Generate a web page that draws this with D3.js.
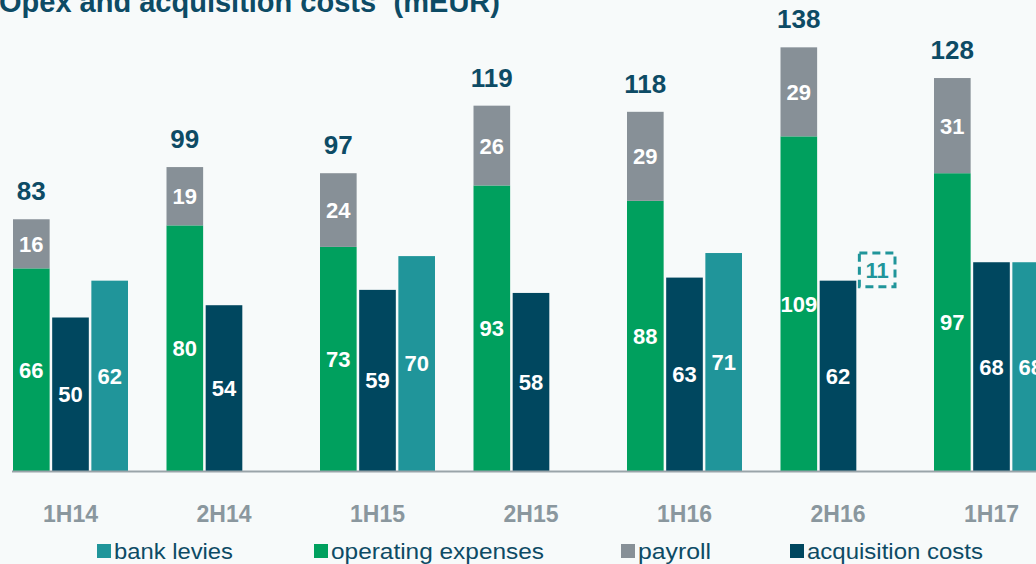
<!DOCTYPE html>
<html>
<head>
<meta charset="utf-8">
<script src="https://cdn.jsdelivr.net/npm/d3@7"></script>
<style>
  html, body { margin: 0; padding: 0; background: #f7fafa; }
  svg { display: block; font-family: "Liberation Sans", Arial, sans-serif; }
</style>
</head>
<body>
<svg id="chart" width="1036" height="564"></svg>
<script>
const categories = ["1H14", "2H14", "1H15", "2H15", "1H16", "2H16", "1H17"];
const opex       = [66, 80, 73, 93, 88, 109, 97];
const payroll    = [16, 19, 24, 26, 29, 29, 31];
const totals     = [83, 99, 97, 119, 118, 138, 128];
const acquisition= [50, 54, 59, 58, 63, 62, 68];
const bankLevies = [62, null, 70, null, 71, null, 68];
// dashed (pro-forma) bank levy indication for 2H16: [from, to, label]
const bankDashed = { category: "2H16", from: 60, to: 71, label: "11" };
const legendItems = ["bank levies", "operating expenses", "payroll", "acquisition costs"];

const colors = {
  "bank levies": "#20959a",
  "operating expenses": "#00a05e",
  "payroll": "#879097",
  "acquisition costs": "#00475f"
};
const titleColor = "#0d4b65";

const svg = d3.select("#chart");
const W = 1036, H = 564;

const y = d3.scaleLinear().domain([0, 140]).range([471, 471 - 140 * 3.07]);
const x = d3.scaleBand().domain(categories).range([13, 13 + 7 * 153.5]).padding(0);
const inner = d3.scaleBand().domain(["opex", "acq", "bank"]).range([0, 115]).paddingInner(0.065);
const bw = inner.bandwidth();

// Title (clipped at top)
const title = svg.append("text")
  .attr("x", -1).attr("y", 12)
  .attr("font-size", 29).attr("font-weight", "bold")
  .attr("fill", titleColor);
title.append("tspan").text("Opex and acquisition costs");
title.append("tspan").attr("font-size", 17).attr("dy", -13).text("1");
title.append("tspan").attr("dy", 13).text(" (mEUR)");

const rows = categories.map((c, i) => ({
  c, opex: opex[i], payroll: payroll[i], total: totals[i],
  acq: acquisition[i], bank: bankLevies[i]
}));

const g = svg.append("g");

// opex bars
g.selectAll("rect.opex").data(rows).join("rect")
  .attr("x", d => x(d.c) + inner("opex")).attr("width", bw)
  .attr("y", d => y(d.opex)).attr("height", d => y(0) - y(d.opex))
  .attr("fill", colors["operating expenses"]);
// payroll stacked
g.selectAll("rect.pay").data(rows).join("rect")
  .attr("x", d => x(d.c) + inner("opex")).attr("width", bw)
  .attr("y", d => y(d.opex + d.payroll)).attr("height", d => y(d.opex) - y(d.opex + d.payroll))
  .attr("fill", colors["payroll"]);
// acquisition
g.selectAll("rect.acq").data(rows).join("rect")
  .attr("x", d => x(d.c) + inner("acq")).attr("width", bw)
  .attr("y", d => y(d.acq)).attr("height", d => y(0) - y(d.acq))
  .attr("fill", colors["acquisition costs"]);
// bank levies
const bankRows = rows.filter(d => d.bank != null);
g.selectAll("rect.bank").data(bankRows).join("rect")
  .attr("x", d => x(d.c) + inner("bank")).attr("width", bw)
  .attr("y", d => y(d.bank)).attr("height", d => y(0) - y(d.bank))
  .attr("fill", colors["bank levies"]);

// dashed box
const bx = x(bankDashed.category) + inner("bank");
g.append("rect")
  .attr("x", bx + 0.5).attr("width", bw - 1)
  .attr("y", y(bankDashed.to)).attr("height", y(bankDashed.from) - y(bankDashed.to))
  .attr("fill", "none").attr("stroke", colors["bank levies"])
  .attr("stroke-width", 3).attr("stroke-dasharray", "8,5");
g.append("text")
  .attr("x", bx + bw / 2).attr("y", (y(bankDashed.to) + y(bankDashed.from)) / 2)
  .attr("dy", "0.36em").attr("text-anchor", "middle")
  .attr("font-size", 22).attr("font-weight", "bold")
  .attr("fill", colors["bank levies"]).text(bankDashed.label);

// axis line
svg.append("line").attr("x1", 12).attr("x2", W).attr("y1", y(0) + 0.5).attr("y2", y(0) + 0.5)
  .attr("stroke", "#9aa4a9").attr("stroke-width", 2);

// value labels
function valueLabel(sel, cx, cy, txt) {
  sel.append("text").attr("x", cx).attr("y", cy).attr("dy", "0.36em")
    .attr("text-anchor", "middle").attr("font-size", 22).attr("font-weight", "bold")
    .attr("fill", "#ffffff").text(txt);
}
rows.forEach(d => {
  const gx = x(d.c);
  valueLabel(g, gx + inner("opex") + bw / 2, (y(0) + y(d.opex)) / 2, d.opex);
  valueLabel(g, gx + inner("opex") + bw / 2, (y(d.opex) + y(d.opex + d.payroll)) / 2, d.payroll);
  valueLabel(g, gx + inner("acq") + bw / 2, (y(0) + y(d.acq)) / 2, d.acq);
  if (d.bank != null) valueLabel(g, gx + inner("bank") + bw / 2, (y(0) + y(d.bank)) / 2, d.bank);
  // total
  g.append("text").attr("x", gx + inner("opex") + bw / 2).attr("y", y(d.opex + d.payroll) - 19)
    .attr("text-anchor", "middle").attr("font-size", 26).attr("font-weight", "bold")
    .attr("fill", titleColor).text(d.total);
});

// category labels
svg.append("g").selectAll("text").data(categories).join("text")
  .attr("x", d => x(d) + 115 / 2).attr("y", 522)
  .attr("text-anchor", "middle").attr("font-size", 23).attr("font-weight", "bold")
  .attr("fill", "#8a979e").text(d => d);

// legend
const legendX = [97, 314, 621, 790];
const legendW = [119, 213, 73, 176];
const lg = svg.append("g");
legendItems.forEach((name, i) => {
  lg.append("rect").attr("x", legendX[i]).attr("y", 544).attr("width", 14).attr("height", 14)
    .attr("fill", colors[name]);
  lg.append("text").attr("x", legendX[i] + 17).attr("y", 559)
    .attr("font-size", 22).attr("fill", titleColor)
    .attr("textLength", legendW[i]).attr("lengthAdjust", "spacingAndGlyphs")
    .text(name);
});
</script>
</body>
</html>
